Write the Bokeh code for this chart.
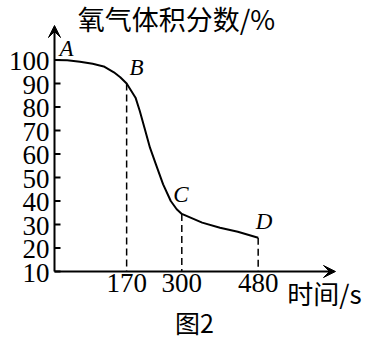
from bokeh.plotting import figure
from bokeh.models import Label, Arrow, VeeHead, Range1d
from bokeh.core.properties import value
from bokeh.embed import file_html
from bokeh.resources import INLINE

# ---- data ----
time_s = [0, 30, 60, 90, 116, 140, 155, 170, 191, 201, 212, 225, 239, 256, 274, 288, 300, 348, 390, 432, 480]
oxygen = [100, 99.9, 99.3, 98.4, 97.3, 94.8, 92.7, 90, 84, 78.3, 71.2, 62.7, 55.6, 47.1, 40, 36.5, 34.5, 30.8, 28.6, 26.9, 24.4]
point_names = ["A", "B", "C", "D"]
point_x = [0, 170, 300, 480]
point_y = [100, 90, 34.5, 24.4]
x_ticks = [170, 300, 480]
y_ticks = [10, 20, 30, 40, 50, 60, 70, 80, 90, 100]
y_title = "氧气体积分数/%"
x_title = "时间/s"
caption = "图2"

# ---- layout: frame covers the whole canvas, axes drawn in data space ----
W, H = 366, 339
OX, OY = 54, 271          # pixel position of the origin (x=0, y=10)
SX = 286 / 674            # px per x unit
SY = 249 / 106            # px per y unit
Y0 = 10


def dx(px):
    return px / SX


def dy(px):
    return px / SY


p = figure(width=W, height=H, output_backend="svg", toolbar_location=None,
           x_range=Range1d(-dx(OX), dx(W - OX)), y_range=Range1d(Y0 - dy(H - OY), Y0 + dy(OY)),
           min_border=0)
p.outline_line_color = None
p.grid.visible = False
p.axis.visible = False
p.background_fill_color = "white"

SERIF = "Liberation Serif"
CJK = "Noto Sans CJK SC"

# axes with arrow heads
x_tip = dx(335 - OX)
y_tip = Y0 + dy(OY - 25)
p.add_layout(Arrow(x_start=0, y_start=Y0, x_end=x_tip, y_end=Y0, line_width=2, line_color="black",
                   end=VeeHead(size=12, fill_color="black", line_color="black", line_width=1)))
p.add_layout(Arrow(x_start=0, y_start=Y0, x_end=0, y_end=y_tip, line_width=2, line_color="black",
                   end=VeeHead(size=12, fill_color="black", line_color="black", line_width=1)))

# y ticks (pointing inward) and labels
p.segment(x0=[0] * len(y_ticks), y0=y_ticks, x1=[dx(6)] * len(y_ticks), y1=y_ticks,
          line_width=2, line_color="black")
p.text(x=[dx(-5)] * len(y_ticks), y=[t - dy(1) for t in y_ticks], text=[str(t) for t in y_ticks],
       text_font=value(SERIF), text_font_size="27px", text_align="right", text_baseline="middle",
       text_color="black")

# x tick labels
p.text(x=x_ticks, y=[Y0 - dy(2)] * len(x_ticks), text=[str(t) for t in x_ticks],
       text_font=value(SERIF), text_font_size="27px", text_align="center", text_baseline="top",
       text_color="black")

# dashed drops
p.segment(x0=point_x[1:], y0=point_y[1:], x1=point_x[1:], y1=[Y0] * 3,
          line_dash="7 4", line_width=1.5, line_color="black")

# curve
p.line(time_s, oxygen, line_width=2, line_color="black")

# point letters (pixel offsets from the points)
offs = [(12, 12), (10, 16), (-1, 19), (6, 16)]
for name, px, py, (ox, oy) in zip(point_names, point_x, point_y, offs):
    p.add_layout(Label(x=px + dx(ox), y=py + dy(oy), text=name, text_font=SERIF,
                       text_font_style="italic", text_font_size="23px",
                       text_align="center", text_baseline="middle", text_color="black"))

# titles
p.add_layout(Label(x=dx(176 - OX), y=Y0 + dy(OY - 18), text=y_title, text_font=CJK,
                   text_font_size="27px", text_align="center", text_baseline="middle", text_color="black"))
p.add_layout(Label(x=dx(324 - OX), y=Y0 + dy(OY - 292), text=x_title, text_font=CJK,
                   text_font_size="26px", text_align="center", text_baseline="middle", text_color="black"))
p.add_layout(Label(x=dx(194 - OX), y=Y0 + dy(OY - 321), text=caption, text_font=CJK,
                   text_font_size="25px", text_align="center", text_baseline="middle", text_color="black"))

open("out.html", "w").write(file_html(p, INLINE))
